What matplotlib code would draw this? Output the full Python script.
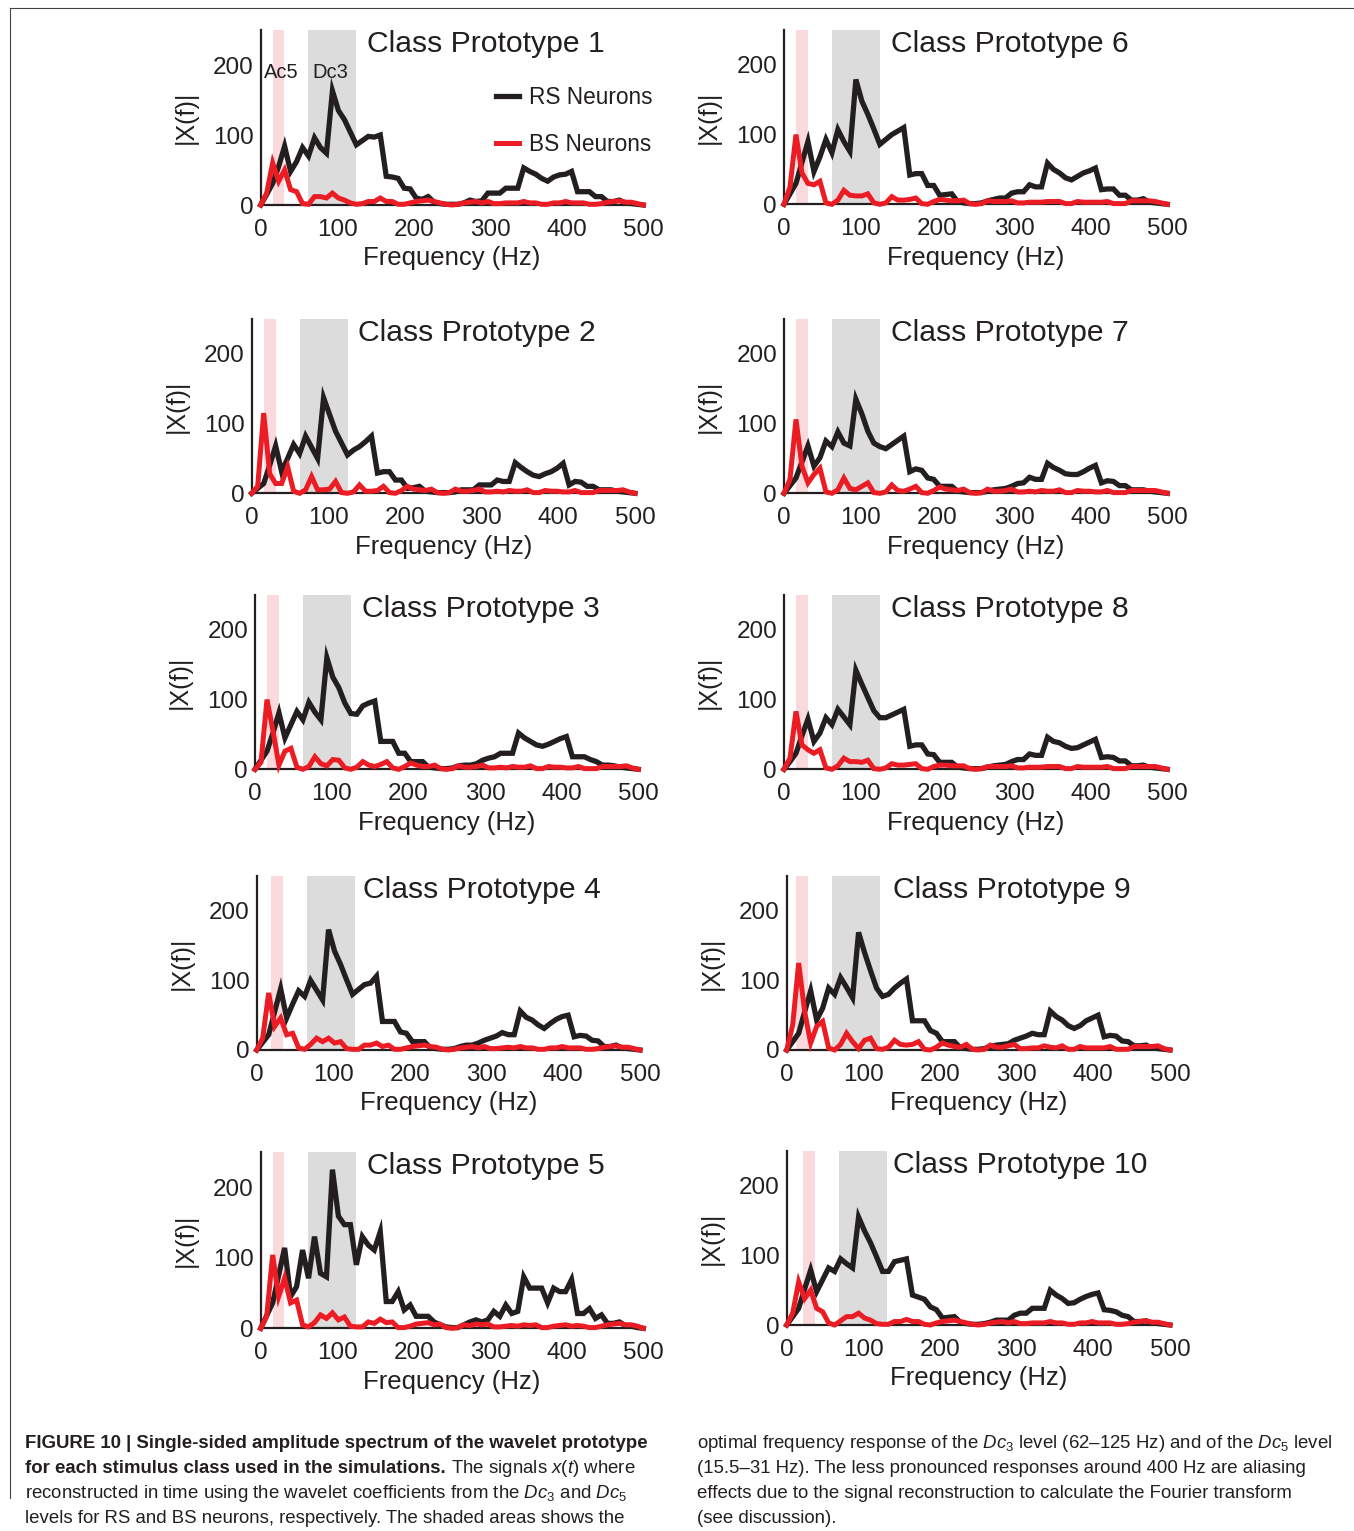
import numpy as np
import matplotlib
matplotlib.use("Agg")
import matplotlib.pyplot as plt
from matplotlib.lines import Line2D

plt.rcParams['font.family'] = ['Liberation Sans', 'DejaVu Sans']
plt.rcParams['mathtext.fontset'] = 'custom'
plt.rcParams['mathtext.rm'] = 'Liberation Sans'
plt.rcParams['mathtext.it'] = 'Liberation Sans:italic'
plt.rcParams['mathtext.bf'] = 'Liberation Sans:bold'

# ---- data ----
freq_hz = np.linspace(0, 500, 65)          # FFT bins, 7.8125 Hz apart
band_ac5 = (15.5, 31)                      # Dc5 level
band_dc3 = (62, 125)                       # Dc3 level
band_shift = [0, 1, 0, 3, 0, 0, 0, 0, -3, 6]   # small offsets of the shading per panel
titles = ['Class Prototype %d' % i for i in range(1, 11)]

rs_spectra = [
    [0, 15, 31, 55, 84, 48, 62, 82, 70, 96, 82, 74, 163, 135, 122, 104, 86, 92, 98, 97, 100, 41, 40, 38, 24, 23, 10, 8, 12, 4, 2, 1, 1,
     1, 3, 7, 5, 6, 17, 17, 17, 24, 24, 24, 53, 48, 44, 38, 34, 40, 43, 44, 48, 19, 19, 19, 12, 12, 5, 5, 7, 3, 2, 1, 0],
    [0, 7, 14, 40, 68, 31, 50, 70, 57, 82, 66, 50, 137, 113, 89, 72, 55, 62, 67, 74, 82, 29, 31, 31, 19, 19, 7, 8, 10, 3, 2, 1, 1,
     1, 2, 5, 5, 5, 12, 12, 12, 19, 17, 17, 44, 37, 31, 26, 24, 28, 31, 36, 43, 12, 17, 16, 10, 10, 5, 5, 5, 3, 2, 1, 0],
    [0, 13, 26, 52, 81, 45, 64, 83, 71, 96, 82, 71, 160, 132, 117, 95, 80, 79, 91, 95, 98, 40, 40, 40, 23, 23, 11, 11, 11, 3, 2, 1, 1,
     2, 5, 6, 6, 8, 13, 16, 18, 23, 23, 23, 52, 45, 40, 35, 33, 36, 40, 44, 47, 18, 18, 18, 14, 11, 6, 6, 5, 3, 2, 1, 0],
    [0, 11, 22, 55, 88, 46, 66, 85, 77, 100, 86, 72, 173, 142, 123, 101, 80, 87, 94, 96, 106, 41, 41, 41, 26, 24, 12, 12, 12, 3, 2, 1, 1,
     2, 5, 7, 7, 10, 14, 17, 20, 25, 22, 22, 56, 47, 43, 36, 31, 38, 44, 48, 50, 19, 21, 20, 14, 13, 5, 5, 7, 3, 2, 1, 0],
    [0, 18, 36, 75, 114, 45, 59, 111, 71, 130, 78, 73, 225, 159, 147, 147, 90, 130, 118, 111, 137, 38, 38, 52, 26, 33, 17, 17, 17, 9, 5, 2, 1,
     1, 5, 9, 12, 9, 12, 24, 17, 33, 21, 24, 73, 57, 57, 57, 36, 57, 52, 52, 69, 21, 21, 28, 14, 19, 7, 7, 9, 4, 3, 1, 0],
    [0, 15, 30, 60, 90, 47, 68, 93, 74, 107, 90, 76, 179, 148, 129, 108, 86, 93, 100, 105, 110, 42, 44, 44, 27, 27, 13, 14, 15, 4, 2, 1, 1,
     2, 5, 7, 9, 9, 16, 18, 18, 28, 25, 25, 59, 50, 45, 38, 35, 40, 45, 48, 52, 21, 22, 22, 13, 13, 6, 6, 8, 3, 2, 1, 0],
    [0, 11, 22, 45, 68, 39, 51, 75, 67, 88, 72, 68, 135, 114, 89, 72, 67, 64, 70, 76, 82, 31, 35, 33, 22, 20, 10, 10, 10, 3, 2, 1, 1,
     1, 3, 5, 6, 7, 10, 14, 15, 23, 20, 20, 43, 37, 33, 28, 27, 27, 31, 36, 40, 15, 18, 17, 11, 11, 5, 5, 5, 3, 2, 1, 0],
    [0, 11, 23, 48, 72, 40, 52, 74, 64, 86, 75, 64, 142, 122, 103, 84, 74, 74, 78, 82, 86, 33, 35, 35, 22, 21, 10, 10, 10, 3, 2, 1, 1,
     1, 3, 5, 6, 7, 11, 14, 14, 22, 20, 20, 46, 40, 38, 33, 30, 31, 35, 39, 43, 17, 18, 17, 12, 12, 5, 5, 6, 3, 2, 1, 0],
    [0, 12, 24, 55, 85, 43, 60, 89, 80, 104, 90, 75, 169, 140, 114, 89, 77, 80, 89, 96, 102, 42, 42, 42, 28, 24, 12, 12, 12, 3, 2, 1, 1,
     2, 5, 7, 8, 9, 14, 17, 20, 24, 22, 22, 56, 48, 43, 35, 31, 35, 42, 46, 50, 19, 21, 20, 13, 12, 6, 6, 7, 3, 2, 1, 0],
    [0, 12, 24, 52, 79, 48, 65, 82, 77, 95, 88, 82, 155, 135, 118, 98, 77, 77, 91, 93, 95, 43, 40, 37, 26, 22, 10, 11, 12, 4, 2, 1, 1,
     2, 4, 7, 7, 7, 14, 17, 17, 24, 24, 24, 50, 43, 38, 31, 32, 37, 41, 44, 46, 22, 21, 19, 14, 12, 5, 5, 6, 3, 2, 1, 0],
]

bs_spectra = [
    [0, 17, 60, 34, 50, 22, 19, 2, 1, 12, 12, 10, 17, 10, 7, 3, 1, 2, 5, 5, 10, 5, 5, 1, 1, 3, 5, 6, 7, 5, 3, 1, 0,
     1, 3, 4, 5, 3, 5, 2, 2, 3, 3, 3, 5, 3, 3, 1, 1, 3, 3, 5, 3, 3, 3, 1, 1, 2, 4, 5, 6, 4, 4, 2, 0],
    [0, 10, 115, 28, 14, 14, 38, 3, 0, 5, 24, 5, 5, 6, 17, 1, 0, 2, 12, 3, 3, 4, 10, 1, 0, 4, 10, 6, 5, 4, 6, 1, 0,
     1, 6, 3, 3, 4, 6, 2, 2, 3, 2, 4, 3, 3, 5, 1, 1, 4, 3, 3, 2, 2, 4, 1, 1, 1, 4, 4, 4, 4, 5, 2, 0],
    [0, 10, 100, 55, 6, 26, 30, 3, 0, 4, 18, 8, 5, 14, 13, 2, 0, 3, 11, 6, 4, 7, 11, 2, 0, 4, 9, 6, 4, 4, 6, 1, 0,
     1, 5, 3, 3, 4, 6, 2, 2, 3, 2, 4, 3, 3, 5, 1, 1, 4, 3, 3, 2, 2, 4, 1, 1, 1, 4, 4, 4, 4, 5, 2, 0],
    [0, 17, 82, 34, 46, 22, 24, 3, 1, 8, 17, 12, 17, 10, 12, 2, 1, 1, 7, 7, 10, 5, 7, 1, 1, 3, 5, 6, 7, 5, 4, 1, 0,
     1, 3, 4, 5, 3, 5, 2, 2, 3, 4, 3, 5, 3, 3, 1, 1, 3, 3, 5, 3, 3, 3, 1, 1, 2, 4, 5, 6, 4, 4, 2, 0],
    [0, 17, 104, 45, 71, 36, 40, 5, 2, 8, 19, 14, 22, 12, 16, 3, 2, 2, 9, 7, 13, 8, 9, 1, 1, 3, 6, 7, 8, 5, 6, 1, 0,
     1, 5, 4, 6, 5, 6, 2, 2, 3, 4, 3, 5, 4, 5, 1, 1, 3, 4, 5, 3, 4, 3, 1, 1, 3, 5, 6, 7, 5, 5, 3, 0],
    [0, 25, 100, 45, 30, 28, 33, 2, 0, 6, 20, 13, 12, 12, 15, 2, 0, 2, 11, 6, 6, 7, 9, 1, 0, 4, 7, 6, 5, 5, 6, 1, 0,
     1, 5, 4, 4, 4, 5, 2, 2, 3, 3, 3, 4, 4, 4, 1, 1, 4, 3, 3, 3, 3, 4, 1, 1, 1, 5, 5, 5, 5, 4, 2, 0],
    [0, 20, 106, 39, 15, 27, 36, 2, 0, 5, 22, 7, 5, 10, 15, 1, 0, 2, 12, 4, 3, 6, 10, 1, 0, 4, 9, 6, 5, 4, 6, 1, 0,
     1, 6, 3, 3, 4, 6, 2, 2, 3, 2, 4, 3, 3, 5, 1, 1, 4, 3, 3, 2, 2, 4, 1, 1, 1, 4, 4, 4, 4, 4, 2, 0],
    [0, 16, 83, 35, 28, 23, 28, 2, 0, 5, 16, 11, 11, 10, 13, 1, 0, 2, 8, 6, 6, 7, 8, 1, 0, 4, 6, 6, 5, 5, 5, 1, 0,
     1, 4, 4, 4, 4, 5, 2, 2, 3, 3, 3, 4, 4, 4, 1, 1, 4, 3, 3, 3, 3, 4, 1, 1, 1, 4, 4, 4, 4, 4, 2, 0],
    [0, 36, 125, 55, 10, 34, 41, 3, 0, 8, 24, 12, 2, 14, 17, 2, 1, 4, 14, 8, 7, 8, 12, 1, 0, 4, 10, 7, 5, 4, 8, 1, 0,
     1, 7, 4, 4, 6, 8, 2, 2, 3, 3, 6, 4, 3, 6, 1, 1, 5, 3, 3, 3, 3, 5, 1, 1, 1, 5, 5, 5, 5, 6, 2, 0],
    [0, 17, 62, 38, 50, 24, 19, 3, 0, 6, 12, 12, 17, 10, 7, 2, 1, 1, 5, 5, 8, 5, 5, 1, 0, 3, 5, 6, 7, 5, 3, 1, 0,
     1, 3, 4, 5, 3, 5, 2, 2, 3, 3, 3, 5, 3, 3, 1, 1, 3, 3, 5, 3, 3, 3, 1, 1, 2, 4, 5, 6, 4, 4, 2, 0],
]

# ---- layout (pixel boxes: left, right, top, bottom) ----
W, H = 1354, 1531
boxes = [
    (260.7, 643.3, 30, 205), (251.7, 635, 319, 493.3), (255, 638.3, 595, 769.3),
    (256.7, 640, 876, 1050), (260.7, 643.3, 1152, 1328.3),
    (784, 1167.3, 30, 204.3), (784, 1167.3, 319, 493.3), (784, 1167.3, 595, 769.3),
    (786.7, 1170, 876, 1050), (786.7, 1170, 1151, 1325),
]

TXT = '#231f20'
RS_COL = '#231f20'
BS_COL = '#ec1c24'
PINK = '#fadadd'
GRAY = '#dcdcdc'

fig = plt.figure(figsize=(W / 100, H / 100), dpi=100)

for i, (x0, x1, yt, yb) in enumerate(boxes):
    ax = fig.add_axes([x0 / W, 1 - yb / H, (x1 - x0) / W, (yb - yt) / H])
    s = band_shift[i]
    ax.axvspan(band_ac5[0] + s, band_ac5[1] + s, color=PINK, lw=0, zorder=0)
    ax.axvspan(band_dc3[0] + s, band_dc3[1] + s, color=GRAY, lw=0, zorder=0)
    ax.plot(freq_hz, rs_spectra[i], color=RS_COL, lw=3.8, clip_on=False,
            solid_joinstyle='miter', label='RS Neurons', zorder=3)
    ax.plot(freq_hz, bs_spectra[i], color=BS_COL, lw=3.6, clip_on=False,
            solid_joinstyle='miter', label='BS Neurons', zorder=4)
    ax.set_xlim(0, 500)
    ax.set_ylim(0, 250)
    ax.set_xticks([0, 100, 200, 300, 400, 500])
    ax.set_yticks([0, 100, 200])
    ax.tick_params(length=0, labelsize=17.5, colors=TXT)
    ax.tick_params(axis='x', pad=10)
    ax.tick_params(axis='y', pad=5)
    for sp in ['top', 'right']:
        ax.spines[sp].set_visible(False)
    for sp in ['left', 'bottom']:
        ax.spines[sp].set_linewidth(1.6)
        ax.spines[sp].set_color(TXT)
    ax.set_facecolor('none')
    ax.set_xlabel('Frequency (Hz)', fontsize=18.5, color=TXT, labelpad=4)
    ax.set_ylabel('|X(f)|', fontsize=18, color=TXT, labelpad=11)
    ax.text(139, 219, titles[i], fontsize=21.7, color=TXT, ha='left', va='baseline')

    if i == 0:
        ax.text(4, 190, 'Ac5', fontsize=14.5, color=TXT, va='center', ha='left', zorder=5)
        ax.text(68, 190, 'Dc3', fontsize=14.5, color=TXT, va='center', ha='left', zorder=5)
        ax.legend(loc='upper left', bbox_to_anchor=(0.615, 0.68), frameon=False,
                  fontsize=16.3, handlelength=1.0, handletextpad=0.45,
                  labelspacing=1.05, borderpad=0, borderaxespad=0,
                  labelcolor=TXT)

# page frame lines
fig.add_artist(Line2D([10 / W, 10 / W], [1 - 8 / H, 1 - 1498 / H], color='#444444', lw=0.8))
fig.add_artist(Line2D([10 / W, 1], [1 - 8 / H, 1 - 8 / H], color='#444444', lw=0.8))

# caption
cap = fig.add_axes([0, 0, 1, 1])
cap.set_axis_off()
cap.set_xlim(0, W)
cap.set_ylim(H, 0)
fs = 13.4
base = [1448, 1473, 1498, 1523]
cap.text(25, base[0], 'FIGURE 10 | Single-sided amplitude spectrum of the wavelet prototype',
         fontsize=fs, fontweight='bold', color=TXT, va='baseline')
t2 = cap.text(25, base[1], 'for each stimulus class used in the simulations.',
              fontsize=fs, fontweight='bold', color=TXT, va='baseline')
fig.canvas.draw()
x_end = cap.transData.inverted().transform(
    (t2.get_window_extent(fig.canvas.get_renderer()).x1, 0))[0]
cap.text(x_end, base[1], ' The signals $x(t)$ where', fontsize=fs, color=TXT, va='baseline')
cap.text(25, base[2], r'reconstructed in time using the wavelet coefficients from the $\mathit{Dc}_3$ and $\mathit{Dc}_5$',
         fontsize=fs, color=TXT, va='baseline')
cap.text(25, base[3], 'levels for RS and BS neurons, respectively. The shaded areas shows the',
         fontsize=fs, color=TXT, va='baseline')
cap.text(697, base[0], r'optimal frequency response of the $\mathit{Dc}_3$ level (62–125 Hz) and of the $\mathit{Dc}_5$ level',
         fontsize=fs, color=TXT, va='baseline')
cap.text(697, base[1], '(15.5–31 Hz). The less pronounced responses around 400 Hz are aliasing',
         fontsize=fs, color=TXT, va='baseline')
cap.text(697, base[2], 'effects due to the signal reconstruction to calculate the Fourier transform',
         fontsize=fs, color=TXT, va='baseline')
cap.text(697, base[3], '(see discussion).', fontsize=fs, color=TXT, va='baseline')

fig.savefig('out.png', dpi=100)
